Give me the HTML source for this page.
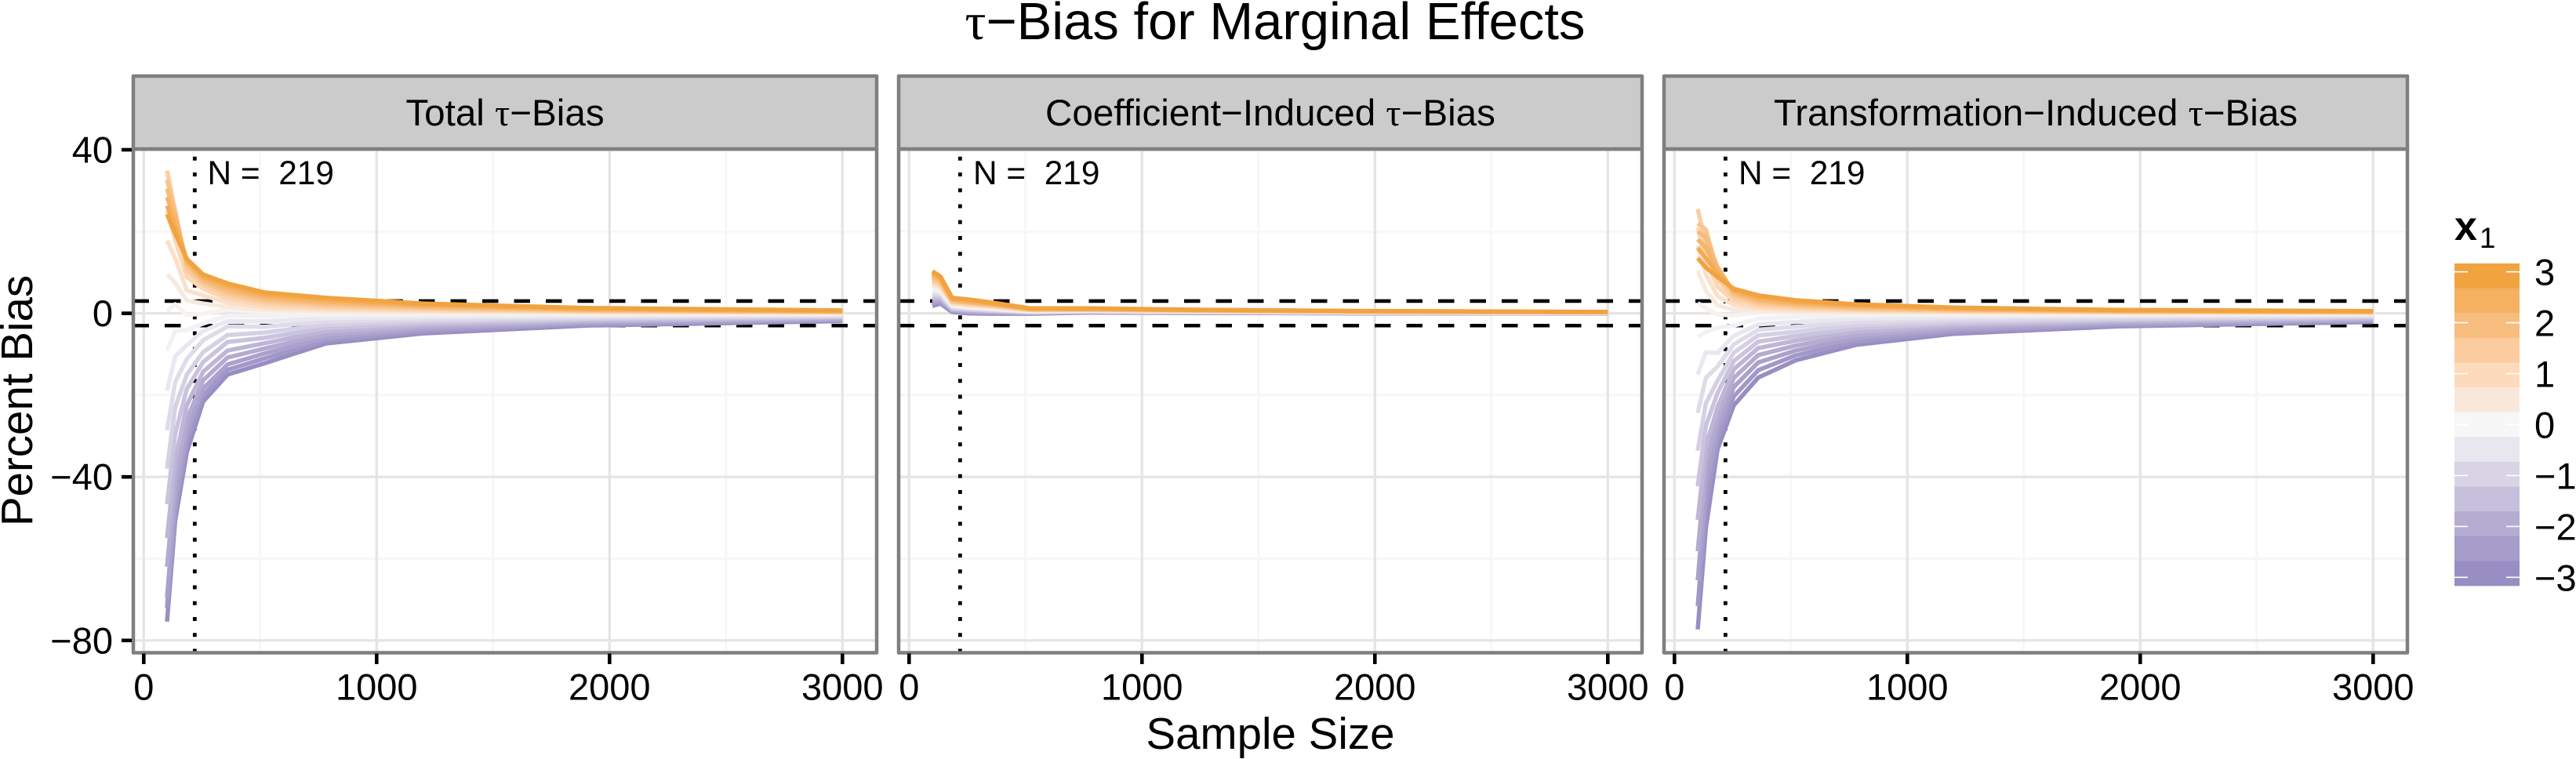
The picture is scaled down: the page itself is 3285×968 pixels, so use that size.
<!DOCTYPE html>
<html lang="en">
<head>
<meta charset="utf-8">
<title>τ−Bias for Marginal Effects</title>
<style>
html,body{margin:0;padding:0;background:#fff;}
body{width:3285px;height:968px;overflow:hidden;}
svg{display:block;}
text{font-family:"Liberation Sans",Arial,sans-serif;fill:#000;}
.tau{font-family:"Liberation Serif",serif;}
.title{font-size:67px;text-anchor:middle;}
.axis-title{font-size:56.5px;text-anchor:middle;}
.strip-text{font-size:47.6px;text-anchor:middle;}
.n-label{font-size:42.4px;white-space:pre;}
.tick{font-size:47px;}
.strip{fill:#cbcbcb;stroke:#7f7f7f;stroke-width:4.5;stroke-linejoin:round;}
</style>
</head>
<body>
<svg id="chart" xmlns="http://www.w3.org/2000/svg" width="3285" height="968" viewBox="0 0 3285 968">
  <defs>
    <clipPath id="clip-0"><rect x="170" y="190" width="948" height="642.5"/></clipPath>
    <clipPath id="clip-1"><rect x="1146" y="190" width="948" height="642.5"/></clipPath>
    <clipPath id="clip-2"><rect x="2122" y="190" width="948" height="642.5"/></clipPath>
  </defs>
  <rect width="3285" height="968" fill="#fff"/>
  <text class="title" x="1626" y="50"><tspan class="tau">τ</tspan>−Bias for Marginal Effects</text>

  <g id="panel-0">
    <g id="marks-0"></g>
    <rect class="strip" x="170" y="97" width="948" height="93"/>
    <text class="strip-text" x="644" y="160">Total <tspan class="tau">τ</tspan>−Bias</text>
    <text class="n-label" x="264.5" y="235" xml:space="preserve">N =  219</text>
  </g>
  <g id="panel-1">
    <g id="marks-1"></g>
    <rect class="strip" x="1146" y="97" width="948" height="93"/>
    <text class="strip-text" x="1620" y="160">Coefficient−Induced <tspan class="tau">τ</tspan>−Bias</text>
    <text class="n-label" x="1241" y="235" xml:space="preserve">N =  219</text>
  </g>
  <g id="panel-2">
    <g id="marks-2"></g>
    <rect class="strip" x="2122" y="97" width="948" height="93"/>
    <text class="strip-text" x="2596" y="160">Transformation−Induced <tspan class="tau">τ</tspan>−Bias</text>
    <text class="n-label" x="2217" y="235" xml:space="preserve">N =  219</text>
  </g>

  <text class="axis-title" x="1620" y="955">Sample Size</text>
  <text class="axis-title" transform="translate(41 511) rotate(-90)">Percent Bias</text>

  <g id="legend">
    <text x="3130" y="306" font-size="52" font-weight="bold">x<tspan font-size="37" font-weight="normal" dy="10" dx="3">1</tspan></text>
  </g>
</svg>

<script>
// ---------- data ----------
const sampleSizes = [100, 135, 185, 255, 360, 520, 780, 1200, 1900, 3000];

// x1 level of each line, lowest to highest
const x1Levels = [-3, -2.68, -2.37, -2.05, -1.74, -1.42, -1.1, -0.79, -0.47, -0.16,
                  0.16, 0.47, 0.79, 1.1, 1.42, 1.74, 2.05, 2.37, 2.68, 3];

// Each row: one sample size; each column: one x1 level.
const totalBias = [
  [-75.4,-72,-69.5,-62,-55,-46.7,-38,-28.6,-18.9,-9.1, 0.6,9.5,17.8,25,34.9,32.7,30.5,28.4,26.3,24.2],
  [-50.7,-48.5,-45.5,-41,-36,-29.5,-23,-16.8,-10.5,-4.3, 2.2,7.5,13.5,18,25,25,24,23,21,19.5],
  [-34,-31.5,-29,-26,-22.5,-18.5,-15,-11.2,-7.8,-4.1, -0.4,3.1,5.6,8.9,10.5,11.5,12.3,12.8,13.1,13.3],
  [-21.6,-20,-18.4,-16.4,-14.3,-11.9,-9.5,-6.6,-4.3,-2.5, -0.1,2.4,4.4,6,6.9,7.6,8.1,8.6,9.1,9.5],
  [-15,-13.8,-12.5,-10.8,-9.1,-7,-5.3,-3.2,-1.9,-0.6, 0.9,1.6,2.6,3.5,4.3,5,5.6,6.2,6.8,7.3],
  [-12.2,-11,-9.8,-8.6,-7.3,-6,-4.7,-3.3,-2,-0.7, 0.2,0.8,1.4,2,2.6,3.1,3.6,4.1,4.6,5.1],
  [-7.4,-6.7,-6,-5.2,-4.4,-3.6,-2.8,-2,-1.2,-0.4, 0.1,0.5,0.9,1.3,1.7,2.1,2.5,2.9,3.4,3.8],
  [-4.9,-4.4,-3.9,-3.4,-2.9,-2.4,-1.9,-1.4,-0.9,-0.3, 0.1,0.3,0.6,0.8,1.1,1.3,1.6,1.9,2.1,2.4],
  [-3,-2.7,-2.4,-2.1,-1.8,-1.5,-1.2,-0.9,-0.6,-0.2, 0.05,0.2,0.3,0.45,0.6,0.7,0.85,1,1.15,1.3],
  [-1.9,-1.7,-1.5,-1.3,-1.1,-0.9,-0.7,-0.5,-0.3,-0.1, 0.03,0.1,0.18,0.25,0.32,0.38,0.45,0.52,0.6,0.7]
];

const coefficientBias = [
  [1.8,2.3,2.7,3.2,3.6,4.1,4.5,5,5.4,5.9,6.3,6.8,7.2,7.7,8.1,8.6,9,9.5,9.9,10.3],
  [2.4,2.7,3.1,3.4,3.8,4.1,4.5,4.8,5.2,5.5,5.9,6.2,6.6,6.9,7.2,7.6,7.9,8.3,8.6,9],
  [0.3,0.5,0.7,0.9,1,1.2,1.4,1.6,1.8,1.9,2.1,2.3,2.5,2.6,2.8,3,3.2,3.4,3.6,3.8],
  [0,0.2,0.4,0.5,0.7,0.9,1,1.2,1.4,1.5,1.7,1.9,2,2.2,2.4,2.6,2.7,2.9,3.2,3.4],
  [-0.1,0.05,0.2,0.35,0.5,0.6,0.75,0.9,1,1.2,1.3,1.4,1.6,1.7,1.9,2,2.1,2.3,2.4,2.6],
  [-0.1,0,0.05,0.1,0.2,0.3,0.35,0.4,0.5,0.55,0.6,0.7,0.75,0.8,0.9,0.95,1,1.1,1.15,1.2],
  [0.2,0.25,0.3,0.35,0.4,0.45,0.5,0.55,0.6,0.65,0.7,0.75,0.8,0.85,0.9,0.95,1,1.05,1.15,1.2],
  [0.1,0.14,0.18,0.22,0.26,0.3,0.34,0.38,0.42,0.46,0.5,0.54,0.58,0.62,0.66,0.7,0.74,0.78,0.84,0.9],
  [0,0.03,0.06,0.1,0.13,0.16,0.19,0.22,0.25,0.28,0.31,0.34,0.37,0.4,0.43,0.46,0.49,0.52,0.56,0.6],
  [-0.05,-0.03,-0.01,0.01,0.03,0.05,0.07,0.09,0.11,0.13,0.15,0.17,0.19,0.21,0.23,0.25,0.27,0.29,0.32,0.35]
];

const transformationBias = [
  [-77.3,-71.6,-65.3,-58.2,-50.5,-42.3,-33.6,-24.4,-15,-5.8, 2.5,10.5,16.6,21,25.5,22,20,18.1,16,13.5],
  [-52.5,-47.5,-42,-37,-32.5,-27.5,-22,-15.8,-9.5,-4.5, 1.2,5.5,9.5,13,17,20.4,18.5,16,13.5,11.2],
  [-33.3,-31,-28.5,-25.8,-23,-19.5,-16.5,-13,-9.7,-3.5, -0.3,2,4.2,6.5,8.5,10.3,11.4,10.5,9.8,8.9],
  [-22.5,-20.3,-18,-15.8,-13.7,-11.7,-9.6,-7.6,-5.5,-3, -0.5,0.8,2,3,3.7,4.4,5,5.4,5.7,6],
  [-15.7,-13.9,-12,-10.2,-8.5,-6.9,-5.4,-4,-2.7,-1.3, 0.2,0.7,1.2,1.7,2.2,2.7,3.1,3.5,4,4.4],
  [-11.5,-10.3,-9.1,-7.9,-6.7,-5.6,-4.5,-3.3,-2.1,-0.9, 0.1,0.4,0.8,1.2,1.5,1.9,2.2,2.5,2.9,3.2],
  [-7.7,-6.9,-6.1,-5.3,-4.5,-3.7,-2.9,-2.1,-1.3,-0.5, 0.05,0.3,0.5,0.8,1,1.2,1.5,1.7,2,2.2],
  [-5,-4.5,-4,-3.5,-3,-2.5,-2,-1.4,-0.9,-0.3, 0.03,0.2,0.35,0.5,0.65,0.8,0.95,1.1,1.25,1.4],
  [-3.2,-2.9,-2.6,-2.2,-1.9,-1.6,-1.3,-0.9,-0.6,-0.2, 0.02,0.1,0.2,0.3,0.4,0.45,0.55,0.65,0.75,0.85],
  [-2.1,-1.9,-1.7,-1.5,-1.3,-1,-0.8,-0.6,-0.4,-0.1, 0.01,0.07,0.13,0.2,0.25,0.3,0.35,0.42,0.5,0.55]
];

const xMajorTicks = [0, 1000, 2000, 3000];
const xMinorGrid = [500, 1500, 2500];
const yMajorTicks = [40, 0, -40, -80];
const yMinorGrid = [20, -20, -60];
const xTickLabels = ["0", "1000", "2000", "3000"];
const yTickLabels = ["40", "0", "−40", "−80"];
const thresholdBias = [3, -3];
const requiredN = [219];
const legendValues = [3, 2, 1, 0, -1, -2, -3];
const legendLabels = ["3", "2", "1", "0", "−1", "−2", "−3"];
const legendColours = ["#f1a340","#f4b160","#f7bd7e","#fbcc9f","#fddabb","#f8e8dc","#f7f7f7",
                       "#e8e6ee","#d8d4e6","#c7c0dd","#b5acd1","#a69dca","#998ec3"];

// ---------- layout ----------
const SVGNS = "http://www.w3.org/2000/svg";
const panelLefts = [170, 1146, 2122];
const panelWidth = 948, panelTop = 190, panelBottom = 832.5;
const panelNames = ["total", "coefficient", "transformation"];
const panelData = [totalBias, coefficientBias, transformationBias];

function xScale(p, n) { return panelLefts[p] + 13.3 + 0.297 * n; }
function yScale(v) { return 399.6 - 5.215 * v; }
function legendY(v) { return 541.5 - 64.95 * v; }

function hexToRgb(h) {
  return [parseInt(h.slice(1,3),16), parseInt(h.slice(3,5),16), parseInt(h.slice(5,7),16)];
}
function colourFor(x1) {
  const t = (3 - x1) / 0.5;
  const i = Math.min(Math.floor(t), legendColours.length - 2);
  const f = t - i;
  const a = hexToRgb(legendColours[i]), b = hexToRgb(legendColours[i + 1]);
  const c = a.map((v, k) => Math.round(v + (b[k] - v) * f));
  return "rgb(" + c.join(",") + ")";
}
function make(parent, tag) {
  const el = document.createElementNS(SVGNS, tag);
  parent.appendChild(el);
  return el;
}
function setLine(el, x1, y1, x2, y2, stroke, width) {
  el.setAttribute("x1", x1);
  el.setAttribute("y1", y1);
  el.setAttribute("x2", x2);
  el.setAttribute("y2", y2);
  el.setAttribute("stroke", stroke);
  el.setAttribute("stroke-width", width);
}

panelData.forEach(function (rows, p) {
  const marks = document.getElementById("marks-" + p);
  const left = panelLefts[p], right = left + panelWidth;

  const bg = make(marks, "rect");
  
  
  bg.setAttribute("x", left);
  bg.setAttribute("y", panelTop);
  bg.setAttribute("width", panelWidth);
  bg.setAttribute("height", panelBottom - panelTop);
  bg.setAttribute("fill", "#fff");

  const clipped = make(marks, "g");
  
  
  clipped.setAttribute("clip-path", "url(#clip-" + p + ")");

  xMinorGrid.forEach(function (n) {
    const g = make(clipped, "line");
    
    
    setLine(g, xScale(p, n), panelTop, xScale(p, n), panelBottom, "#f7f7f7", 3.2);
  });
  yMinorGrid.forEach(function (v) {
    const g = make(clipped, "line");
    
    
    setLine(g, left, yScale(v), right, yScale(v), "#f7f7f7", 3.2);
  });
  xMajorTicks.forEach(function (n) {
    const g = make(clipped, "line");
    
    
    setLine(g, xScale(p, n), panelTop, xScale(p, n), panelBottom, "#e5e5e5", 3.4);
  });
  yMajorTicks.forEach(function (v) {
    const g = make(clipped, "line");
    
    
    setLine(g, left, yScale(v), right, yScale(v), "#e5e5e5", 3.4);
  });

  thresholdBias.forEach(function (v) {
    const h = make(clipped, "line");
    
    
    setLine(h, left - 0.5, yScale(v), right, yScale(v), "#000", 4.6);
    h.setAttribute("stroke-dasharray", "20.5 20");
  });

  const vl = make(clipped, "line");
  
  
  setLine(vl, xScale(p, requiredN[0]), 179.55, xScale(p, requiredN[0]), panelBottom + 2, "#000", 4.8);
  vl.setAttribute("stroke-dasharray", "5 15.25");

  x1Levels.forEach(function (level, s) {
    const pts = sampleSizes.map(function (n, i) {
      return xScale(p, n).toFixed(1) + "," + yScale(rows[i][s]).toFixed(1);
    }).join(" ");
    const line = make(clipped, "polyline");
    
    
    line.setAttribute("points", pts);
    line.setAttribute("fill", "none");
    line.setAttribute("stroke", colourFor(level));
    line.setAttribute("stroke-width", 5.5);
    line.setAttribute("stroke-linejoin", "round");
    line.setAttribute("stroke-linecap", "butt");
  });

  const border = make(marks, "rect");
  
  
  border.setAttribute("x", left);
  border.setAttribute("y", panelTop);
  border.setAttribute("width", panelWidth);
  border.setAttribute("height", panelBottom - panelTop);
  border.setAttribute("fill", "none");
  border.setAttribute("stroke", "#7f7f7f");
  border.setAttribute("stroke-width", 4.5);
  border.setAttribute("stroke-linejoin", "round");

  xMajorTicks.forEach(function (n, i) {
    const t = make(marks, "line");
    
    
    setLine(t, xScale(p, n), panelBottom + 1, xScale(p, n), 847, "#000", 4.6);
    const l = make(marks, "text");
    
    
    l.setAttribute("class", "tick");
    l.setAttribute("x", xScale(p, n));
    l.setAttribute("y", 892.7);
    l.setAttribute("text-anchor", "middle");
    l.textContent = xTickLabels[i];
  });

  if (p === 0) {
    yMajorTicks.forEach(function (v, i) {
      const t = make(marks, "line");
      
      
      setLine(t, 155, yScale(v), 168, yScale(v), "#000", 4.6);
      const l = make(marks, "text");
      
      
      l.setAttribute("class", "tick");
      l.setAttribute("x", 144);
      l.setAttribute("y", yScale(v) + 16.5);
      l.setAttribute("text-anchor", "end");
      l.textContent = yTickLabels[i];
    });
  }
});

// ---------- legend ----------
const legend = document.getElementById("legend");
const bandTop = 336, bandHeight = 31.62;
legendColours.forEach(function (c, i) {
  const r = make(legend, "rect");
  
  
  r.setAttribute("x", 3130);
  r.setAttribute("y", bandTop + i * bandHeight);
  r.setAttribute("width", 83);
  r.setAttribute("height", bandHeight + 0.3);
  r.setAttribute("fill", c);
});
legendValues.forEach(function (v, i) {
  const y = legendY(v);
  const a = make(legend, "line");
  
  
  setLine(a, 3130, y, 3147, y, "#fff", 1.6);
  const b = make(legend, "line");
  
  
  setLine(b, 3196, y, 3213, y, "#fff", 1.6);
  const l = make(legend, "text");
  
  
  l.setAttribute("class", "tick");
  l.setAttribute("x", 3232);
  l.setAttribute("y", y + 17);
  l.textContent = legendLabels[i];
});
</script>
</body>
</html>
